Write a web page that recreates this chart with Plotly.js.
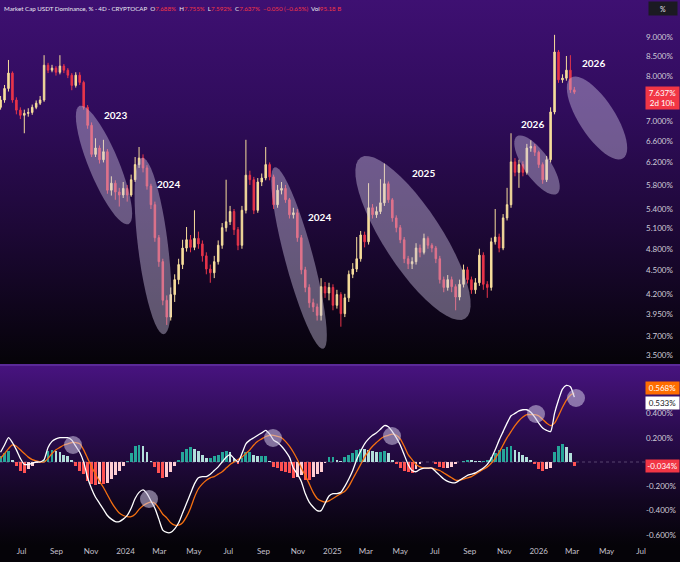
<!DOCTYPE html>
<html>
<head>
<meta charset="utf-8">
<script src="https://cdn.plot.ly/plotly-3.0.1.min.js"></script>
<style>
html,body{margin:0;padding:0;background:#050308;}
#chart{width:680px;height:562px;
background:linear-gradient(to bottom,#3e1072 0px,#300c5c 110px,#1d0836 230px,#0b0414 330px,#050308 364px,#5a2a98 364px,#5a2a98 366px,#47137f 366px,#2b0c50 430px,#120621 500px,#050308 545px,#050308 562px);}
</style>
</head>
<body>
<div id="chart"></div>
<script>
// ---- data (weekly candles, USDT dominance %) ----
const startDate = [2023, 4, 25];   // first candle: 2023-05-25
const stepDays = 7;

const openV = [
7.30,7.46,7.72,8.08,7.46,7.24,7.13,7.17,7.19,7.30,
7.39,7.46,8.27,8.15,8.20,8.10,8.25,8.15,8.03,7.79,
8.03,7.86,7.30,6.92,6.35,6.47,6.25,6.40,5.71,5.83,
5.68,5.63,5.74,5.63,5.89,6.16,6.28,6.10,5.78,5.47,
4.96,4.62,4.12,3.92,4.19,4.38,4.58,4.81,4.93,4.82,
4.95,4.87,4.70,4.52,4.47,4.62,4.85,5.11,5.20,5.36,
5.08,4.85,5.38,5.97,5.89,5.38,5.85,5.92,6.16,5.94,
5.47,5.71,5.74,5.55,5.31,5.34,4.96,4.51,4.28,4.09,
4.04,3.94,4.29,4.21,4.28,4.06,4.19,3.96,4.15,4.45,
4.52,4.66,5.00,4.90,5.42,5.31,5.36,5.50,5.82,5.55,
5.26,5.11,4.93,4.66,4.59,4.62,4.81,4.75,4.95,4.85,
4.81,4.66,4.38,4.28,4.38,4.29,4.16,4.32,4.51,4.38,
4.25,4.34,4.71,4.32,4.28,4.90,4.97,4.81,5.26,5.47,
6.21,6.02,6.16,6.02,6.47,6.50,6.39,6.16,5.89,6.25,
7.20,8.60,7.92,7.96,8.15,7.688];

const highV = [
7.55,7.80,8.40,8.12,7.52,7.30,7.25,7.28,7.36,7.45,
7.55,8.52,8.33,8.28,8.25,8.52,8.30,8.20,8.08,8.10,
8.10,7.90,7.35,6.98,6.66,6.52,6.63,6.45,5.95,5.88,
5.75,5.85,5.80,5.98,6.30,6.49,6.35,6.15,5.82,5.52,
5.00,4.66,4.18,4.28,4.45,4.66,4.93,5.12,5.00,5.38,
5.05,4.92,4.75,4.58,4.70,4.92,5.18,5.89,5.45,5.40,
5.12,5.45,6.63,6.05,5.94,5.92,6.00,6.49,6.20,5.98,
5.80,5.85,5.80,5.58,5.42,5.40,5.00,4.55,4.32,4.14,
4.08,4.40,4.35,4.34,4.32,4.25,4.22,4.20,4.50,4.60,
4.97,5.06,5.05,5.83,5.48,5.44,5.90,6.18,5.86,5.58,
5.30,5.15,4.97,4.70,4.68,4.88,4.86,5.02,4.98,4.88,
4.84,4.70,4.42,4.44,4.42,4.32,4.38,4.58,4.55,4.42,
4.40,4.80,4.75,4.36,4.96,5.40,5.02,5.32,5.75,6.76,
6.28,6.25,6.22,6.55,6.62,6.55,6.42,6.20,6.32,7.30,
9.05,8.65,8.05,8.50,8.52,7.755];

const lowV = [
7.25,7.40,7.65,7.40,7.15,7.05,6.76,7.10,7.14,7.26,
7.35,7.42,8.08,8.10,8.02,8.05,8.08,7.96,7.68,7.74,
7.80,7.25,6.85,6.30,6.30,6.18,6.20,5.65,5.62,5.55,
5.44,5.58,5.52,5.60,5.85,6.10,6.02,5.72,5.40,4.90,
4.55,4.06,3.83,3.88,4.10,4.32,4.52,4.76,4.75,4.78,
4.80,4.62,4.45,4.34,4.40,4.58,4.80,5.05,5.15,5.00,
4.78,4.80,5.33,5.80,5.32,5.34,5.78,5.88,5.88,5.40,
5.42,5.64,5.50,5.25,5.25,4.90,4.45,4.22,4.03,3.98,
3.88,3.88,4.15,4.12,4.00,4.02,3.81,3.92,4.10,4.40,
4.48,4.62,4.82,4.86,5.25,5.26,5.32,5.45,5.50,5.20,
5.04,4.88,4.60,4.52,4.52,4.58,4.68,4.72,4.80,4.75,
4.60,4.33,4.22,4.24,4.22,4.00,4.12,4.28,4.33,4.20,
4.20,4.30,4.25,4.15,4.24,4.86,4.75,4.78,5.22,5.42,
5.95,5.75,5.95,5.98,6.40,6.32,6.10,5.82,5.85,6.20,
7.15,7.85,7.85,7.90,7.62,7.592];

const closeV = [
7.46,7.72,8.08,7.46,7.24,7.13,7.17,7.19,7.30,7.39,
7.46,8.27,8.15,8.20,8.10,8.25,8.15,8.03,7.79,8.03,
7.86,7.30,6.92,6.35,6.47,6.25,6.40,5.71,5.83,5.68,
5.63,5.74,5.63,5.89,6.16,6.28,6.10,5.78,5.47,4.96,
4.62,4.12,3.92,4.19,4.38,4.58,4.81,4.93,4.82,4.95,
4.87,4.70,4.52,4.47,4.62,4.85,5.11,5.20,5.36,5.08,
4.85,5.38,5.97,5.89,5.38,5.85,5.92,6.16,5.94,5.47,
5.71,5.74,5.55,5.31,5.34,4.96,4.51,4.28,4.09,4.04,
3.94,4.29,4.21,4.28,4.06,4.19,3.96,4.15,4.45,4.52,
4.66,5.00,4.90,5.42,5.31,5.36,5.50,5.82,5.55,5.26,
5.11,4.93,4.66,4.59,4.62,4.81,4.75,4.95,4.85,4.81,
4.66,4.38,4.28,4.38,4.29,4.16,4.32,4.51,4.38,4.25,
4.34,4.71,4.32,4.28,4.90,4.97,4.81,5.26,5.47,6.21,
6.02,6.16,6.02,6.47,6.50,6.39,6.16,5.89,6.25,7.20,
8.60,7.92,7.96,8.15,7.69,7.637];

// MACD (white) and signal (orange), % units
const macdV = [
0.08,0.14,0.20,0.16,0.10,0.03,-0.02,-0.02,-0.01,0.00,
0.00,0.02,0.12,0.17,0.19,0.20,0.20,0.20,0.18,0.13,
0.08,0.00,-0.13,-0.22,-0.29,-0.34,-0.39,-0.44,-0.47,-0.49,
-0.49,-0.47,-0.44,-0.38,-0.30,-0.25,-0.23,-0.26,-0.32,-0.38,
-0.47,-0.56,-0.58,-0.58,-0.55,-0.50,-0.42,-0.34,-0.26,-0.18,
-0.13,-0.12,-0.12,-0.10,-0.07,-0.04,0.00,0.04,0.06,0.03,
0.00,0.07,0.15,0.18,0.20,0.22,0.24,0.26,0.23,0.18,
0.16,0.13,0.09,0.04,-0.05,-0.10,-0.16,-0.26,-0.33,-0.37,
-0.40,-0.40,-0.34,-0.28,-0.26,-0.26,-0.25,-0.20,-0.14,-0.07,
0.02,0.09,0.15,0.19,0.22,0.24,0.27,0.30,0.29,0.25,
0.20,0.14,0.06,-0.02,-0.07,-0.08,-0.06,-0.05,-0.05,-0.05,
-0.08,-0.11,-0.14,-0.16,-0.17,-0.17,-0.15,-0.13,-0.11,-0.10,
-0.09,-0.07,-0.05,-0.02,0.03,0.10,0.18,0.25,0.32,0.38,
0.40,0.42,0.43,0.43,0.41,0.37,0.32,0.28,0.26,0.25,
0.40,0.51,0.60,0.63,0.62,0.5334];

const signalV = [
0.03,0.07,0.11,0.14,0.13,0.10,0.07,0.04,0.02,0.01,
0.00,0.00,0.03,0.07,0.10,0.12,0.14,0.15,0.16,0.16,
0.15,0.10,0.03,-0.04,-0.10,-0.16,-0.21,-0.27,-0.33,-0.38,
-0.42,-0.44,-0.45,-0.45,-0.43,-0.39,-0.36,-0.34,-0.33,-0.34,
-0.38,-0.43,-0.46,-0.50,-0.52,-0.52,-0.50,-0.45,-0.38,-0.29,
-0.22,-0.18,-0.15,-0.13,-0.12,-0.10,-0.08,-0.05,-0.02,0.00,
0.02,0.04,0.07,0.10,0.14,0.17,0.19,0.21,0.22,0.22,
0.21,0.20,0.17,0.13,0.08,0.02,-0.05,-0.11,-0.18,-0.25,
-0.30,-0.32,-0.33,-0.32,-0.30,-0.28,-0.26,-0.24,-0.20,-0.14,
-0.08,-0.02,0.04,0.09,0.13,0.16,0.19,0.21,0.22,0.23,
0.22,0.19,0.13,0.06,0.02,-0.02,-0.04,-0.05,-0.05,-0.05,
-0.06,-0.07,-0.09,-0.11,-0.13,-0.15,-0.15,-0.14,-0.13,-0.12,
-0.10,-0.08,-0.06,-0.04,-0.01,0.03,0.08,0.14,0.20,0.25,
0.30,0.34,0.37,0.39,0.39,0.39,0.38,0.35,0.32,0.30,
0.32,0.38,0.45,0.51,0.55,0.5676];

const tickDates = ['2023-07-01','2023-09-01','2023-11-01','2024-01-01','2024-03-01','2024-05-01','2024-07-01','2024-09-01','2024-11-01','2025-01-01','2025-03-01','2025-05-01','2025-07-01','2025-09-01','2025-11-01','2026-01-01','2026-03-01','2026-05-01','2026-07-01'];
const tickLabels = ['Jul','Sep','Nov','2024','Mar','May','Jul','Sep','Nov','2025','Mar','May','Jul','Sep','Nov','2026','Mar','May','Jul'];
const priceTicks = [3.5,3.7,3.95,4.2,4.5,4.8,5.1,5.4,5.8,6.2,6.6,7.0,8.0,8.5,9.0];
const macdTicks = [-0.6,-0.4,-0.2,0.2,0.4];
const yearLabels = ['2023','2024','2024','2025','2026','2026'];

// ---- layout helpers (pixel geometry of the 680x562 frame) ----
const PW = 645, PH = 545;
const px2x = p => p / PW;
const py2y = p => 1 - p / PH;
const FONT = 'Lato, "Open Sans", "Liberation Sans", sans-serif';
const UP = '#f6dd9c', DN = '#e8354a';

const dates = closeV.map((_, i) => {
  const d = new Date(Date.UTC(startDate[0], startDate[1], startDate[2]));
  d.setUTCDate(d.getUTCDate() + stepDays * i);
  return d.toISOString().slice(0, 10);
});

const histV = macdV.map((m, i) => m - signalV[i]);
const histColors = histV.map((h, i) => {
  const prev = i > 0 ? histV[i - 1] : 0;
  if (h >= 0) return h >= prev ? '#26a69a' : '#b2dfdb';
  return h <= prev ? '#ff5252' : '#ffcdd2';
});

const last = closeV.length - 1;

const traces = [
  {type:'candlestick', x:dates, open:openV, high:highV, low:lowV, close:closeV,
   xaxis:'x', yaxis:'y', whiskerwidth:0, hoverinfo:'skip',
   increasing:{line:{color:UP,width:1}, fillcolor:UP},
   decreasing:{line:{color:DN,width:1}, fillcolor:DN}},
  {type:'bar', x:dates, y:histV, xaxis:'x', yaxis:'y2', width:5*86400000,
   marker:{color:histColors, line:{width:0}}, hoverinfo:'skip'},
  {type:'scatter', mode:'lines', x:dates, y:signalV, xaxis:'x', yaxis:'y2',
   line:{color:'#f57010', width:1.3, shape:'spline', smoothing:0.6}, hoverinfo:'skip'},
  {type:'scatter', mode:'lines', x:dates, y:macdV, xaxis:'x', yaxis:'y2',
   line:{color:'#ffffff', width:1.3, shape:'spline', smoothing:0.6}, hoverinfo:'skip'}
];

// highlight ellipses: [cx, cy, semi-major, semi-minor, angle deg] in pixels
const ellipses = [
  [104,165,64,15,67.5],
  [153,246,89,15,83],
  [299,258,94,14,75],
  [413,238,96,29,57],
  [537,165,35,13,55],
  [597,118,48,18,57]
];
function ellipsePath(cx, cy, a, b, deg) {
  const th = deg * Math.PI / 180;
  let s = '';
  for (let i = 0; i <= 48; i++) {
    const t = 2 * Math.PI * i / 48;
    const x = cx + a * Math.cos(t) * Math.cos(th) - b * Math.sin(t) * Math.sin(th);
    const y = cy + a * Math.cos(t) * Math.sin(th) + b * Math.sin(t) * Math.cos(th);
    s += (i === 0 ? 'M' : 'L') + px2x(x).toFixed(5) + ',' + py2y(y).toFixed(5);
  }
  return s + 'Z';
}
const macdCircles = [[73,445],[149,499],[273,438],[392,436],[536,414],[576,398]];
const yearPos = [[115,115],[168,184],[319,217],[423,173],[532,124],[593,63]];

const shapes = [];
ellipses.forEach(e => shapes.push({type:'path', xref:'paper', yref:'paper',
  path: ellipsePath(...e), fillcolor:'rgba(210,200,230,0.42)', line:{width:0}}));
macdCircles.forEach(c => shapes.push({type:'circle', xref:'paper', yref:'paper',
  x0:px2x(c[0]-9), x1:px2x(c[0]+9), y0:py2y(c[1]+9), y1:py2y(c[1]-9),
  fillcolor:'rgba(210,200,230,0.55)', line:{width:0}}));
shapes.push({type:'line', xref:'paper', x0:0, x1:1, yref:'y',
  y0:Math.log10(closeV[last]), y1:Math.log10(closeV[last]),
  line:{color:'rgba(242,54,69,0.45)', width:1, dash:'dot'}});
shapes.push({type:'line', xref:'paper', x0:0, x1:1, yref:'y2', y0:0, y1:0,
  line:{color:'rgba(190,180,210,0.35)', width:1, dash:'dot'}});

const red = s => '<span style="color:#f23645">' + s + '</span>';
const header = 'Market Cap USDT Dominance, % · 4D · CRYPTOCAP  ' +
  'O' + red(openV[last].toFixed(3) + '%') + '  H' + red(highV[last].toFixed(3) + '%') +
  '  L' + red(lowV[last].toFixed(3) + '%') + '  C' + red(closeV[last].toFixed(3) + '%') +
  '  ' + red('−0.050 (−0.65%)') + '  Vol' + red('95.18 B');

const annotations = [
  {xref:'paper', yref:'paper', x:0.003, y:py2y(8), xanchor:'left', yanchor:'middle',
   text:header, showarrow:false, font:{family:FONT, size:6.2, color:'#ecebf2'}},
  {xref:'paper', yref:'paper', x:1.005, y:py2y(8), xanchor:'left', yanchor:'middle',
   text:'%', showarrow:false, width:26, height:11, bgcolor:'#1b1a22',
   font:{family:FONT, size:7, color:'#e0e0e8'}},
  {xref:'paper', yref:'y', x:1, y:Math.log10(closeV[last]), xanchor:'left', yanchor:'top', yshift:6,
   text:closeV[last].toFixed(3) + '%<br>2d 10h', showarrow:false, align:'center',
   width:31, bgcolor:'#f23645', borderpad:1, font:{family:FONT, size:8, color:'#ffffff'}},
  {xref:'paper', yref:'y2', x:1, y:signalV[last], xanchor:'left', yanchor:'middle', yshift:5,
   text:signalV[last].toFixed(3) + '%', showarrow:false, width:31, bgcolor:'#ff6d00',
   borderpad:1, font:{family:FONT, size:8, color:'#ffffff'}},
  {xref:'paper', yref:'y2', x:1, y:macdV[last], xanchor:'left', yanchor:'middle', yshift:-6,
   text:macdV[last].toFixed(3) + '%', showarrow:false, width:31, bgcolor:'#ffffff',
   borderpad:1, font:{family:FONT, size:8, color:'#131722'}},
  {xref:'paper', yref:'y2', x:1, y:histV[last], xanchor:'left', yanchor:'middle',
   text:histV[last].toFixed(3) + '%', showarrow:false, width:31, bgcolor:'#f23645',
   borderpad:1, font:{family:FONT, size:8, color:'#ffffff'}}
];
yearLabels.forEach((t, i) => annotations.push({xref:'paper', yref:'paper',
  x:px2x(yearPos[i][0]), y:py2y(yearPos[i][1]), text:'<b>' + t + '</b>', showarrow:false,
  xanchor:'center', yanchor:'middle', font:{family:FONT, size:10, color:'#ffffff'}}));

const tickfont = {family:FONT, size:8, color:'#cfcbd8'};
const layout = {
  width:680, height:562,
  margin:{l:0, r:35, t:0, b:17, pad:0},
  paper_bgcolor:'rgba(0,0,0,0)', plot_bgcolor:'rgba(0,0,0,0)',
  showlegend:false, hovermode:false, bargap:0, boxgap:0.45,
  xaxis:{type:'date', range:['2023-05-24','2026-07-08'], anchor:'y2',
    tickvals:tickDates, ticktext:tickLabels, tickfont:{family:FONT, size:8, color:'#c4c0cc'},
    showgrid:false, zeroline:false, showline:false, ticks:'', ticklen:0,
    rangeslider:{visible:false}, fixedrange:true},
  yaxis:{domain:[1 - 365 / PH, 1], type:'log', side:'right', anchor:'x',
    range:[0.5316, 1.0015], tickvals:priceTicks,
    ticktext:priceTicks.map(v => v.toFixed(3) + '%'), tickfont:tickfont,
    showgrid:false, zeroline:false, showline:false, ticks:'', fixedrange:true},
  yaxis2:{domain:[0, 1 - 366 / PH], side:'right', anchor:'x', range:[-0.683, 0.79],
    tickvals:macdTicks, ticktext:macdTicks.map(v => v.toFixed(3) + '%'), tickfont:tickfont,
    showgrid:false, zeroline:false, showline:false, ticks:'', fixedrange:true},
  shapes:shapes, annotations:annotations
};

Plotly.newPlot('chart', traces, layout, {staticPlot:true, displayModeBar:false});
</script>
</body>
</html>
